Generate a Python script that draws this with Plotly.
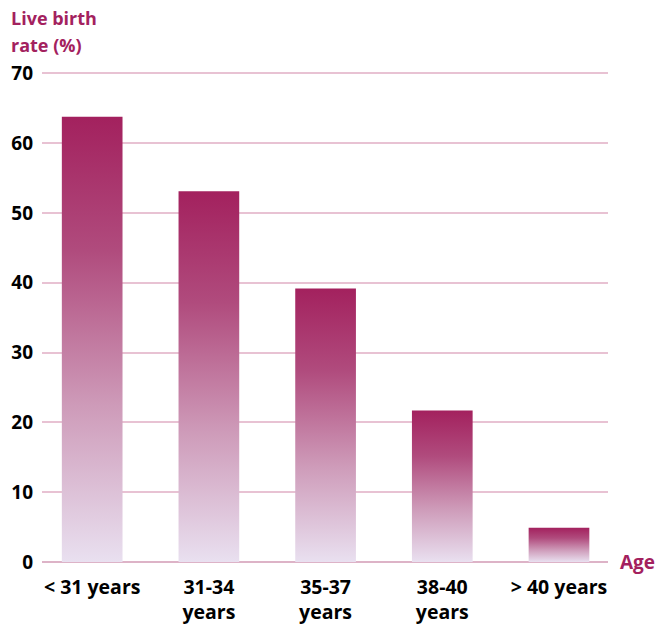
import plotly.graph_objects as go

categories = ["< 31 years", "31-34<br>years", "35-37<br>years", "38-40<br>years", "> 40 years"]
values = [63.8, 53.1, 39.2, 21.7, 4.9]
y_ticks = [0, 10, 20, 30, 40, 50, 60, 70]
title_lines = ["Live birth", "rate (%)"]

BAR_W = 0.52
DARK = "#A3215E"
scale = [[0.0, "#E9E0F0"], [0.35, "#CE9BB9"], [0.7, "#B04B7D"], [1.0, "#A3215E"]]

fig = go.Figure()
for i, v in enumerate(values):
    x0, x1 = i - BAR_W / 2, i + BAR_W / 2
    fig.add_trace(go.Scatter(
        x=[x0, x1, x1, x0, x0], y=[0, 0, v, v, 0],
        mode="lines", line=dict(width=0), fill="toself",
        fillgradient=dict(type="vertical", colorscale=scale, start=0, stop=v),
        hoverinfo="skip", showlegend=False,
    ))

font_fam = "Open Sans, Lato, sans-serif"
FS = 18
FX = 19.5
PH = 490
annos = []
for k, line in enumerate(title_lines):
    annos.append(dict(text=line, xref="paper", yref="paper",
                      x=(9 - 42) / 566, y=(562 - (18 + 27 * k)) / PH,
                      xanchor="left", yanchor="middle", align="left", showarrow=False,
                      font=dict(family=font_fam, size=FS, color=DARK, weight="bold")))
annos.append(dict(text="Age", xref="paper", yref="paper",
                  x=(618 - 42) / 566, y=0.0, xanchor="left", yanchor="middle",
                  showarrow=False,
                  font=dict(family=font_fam, size=FS + 1, color=DARK, weight="bold")))

fig.update_layout(
    width=659, height=624,
    margin=dict(l=42, r=51, t=72, b=62, autoexpand=False),
    plot_bgcolor="white", paper_bgcolor="white",
    font=dict(family=font_fam, size=FS, color="black"),
    xaxis=dict(
        range=[-0.43, 4.42], tickvals=list(range(len(categories))), ticktext=categories,
        showgrid=False, zeroline=False, showline=False, automargin=False,
        tickfont=dict(family=font_fam, size=FX, color="black", weight="bold"),
        ticks="", ticklabelstandoff=11,
    ),
    yaxis=dict(
        range=[0, 70.2], tickvals=y_ticks, showgrid=True, gridcolor="#E8C2D3", gridwidth=1.5,
        zeroline=True, zerolinecolor="#DDB3C7", zerolinewidth=2, showline=False,
        automargin=False,
        tickfont=dict(family=font_fam, size=FS + 1, color="black", weight="bold"),
        ticks="", ticklabelstandoff=8,
    ),
    annotations=annos,
)

fig.write_html("out.html")
